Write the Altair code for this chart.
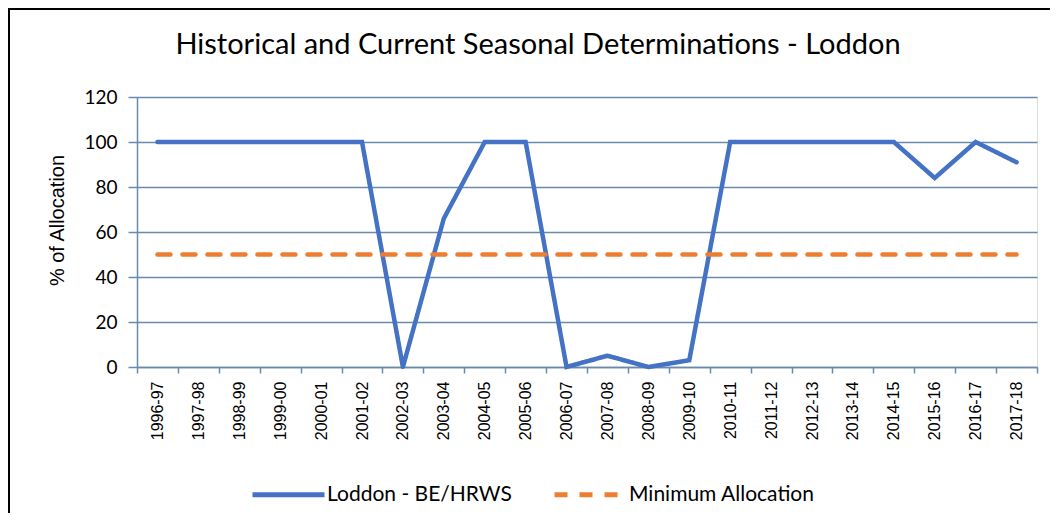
import altair as alt
import pandas as pd

seasons = ["1996-97", "1997-98", "1998-99", "1999-00", "2000-01", "2001-02",
           "2002-03", "2003-04", "2004-05", "2005-06", "2006-07", "2007-08",
           "2008-09", "2009-10", "2010-11", "2011-12", "2012-13", "2013-14",
           "2014-15", "2015-16", "2016-17", "2017-18"]
loddon = [100, 100, 100, 100, 100, 100, 0, 66, 100, 100, 0, 5,
          0, 3, 100, 100, 100, 100, 100, 84, 100, 91]
minimum = [50, 50, 50, 50, 50, 50, 50, 50, 50, 50, 50, 50,
           50, 50, 50, 50, 50, 50, 50, 50, 50, 50]
series_names = ["Loddon - BE/HRWS", "Minimum Allocation"]
series_colors = ["#4472C4", "#ED7D31"]
y_ticks = [0, 20, 40, 60, 80, 100, 120]
title_text = "Historical and Current Seasonal Determinations - Loddon"
y_title = "% of Allocation"

df = pd.DataFrame({
    "season": seasons + seasons,
    "value": loddon + minimum,
    "series": [series_names[0]] * len(seasons) + [series_names[1]] * len(seasons),
})

grid = "#6a89ad"

leg = alt.Legend(
    title=None, orient="none", legendX=113, legendY=359, direction="horizontal",
    columns=2, symbolType="stroke", symbolSize=5184, symbolStrokeWidth=5,
    labelFont="Lato", labelFontSize=21, labelColor="black", labelOffset=0,
    columnPadding=32, labelLimit=400,
)

lines = alt.Chart(df).mark_line(strokeWidth=4.5, strokeCap="round").encode(
    x=alt.X("season:N", sort=seasons,
            scale=alt.Scale(type="band", paddingInner=0, paddingOuter=0),
            axis=alt.Axis(title=None, labelAngle=270, labelFont="Liberation Sans",
                          labelFontSize=16, labelColor="black", labelPadding=8,
                          tickBand="extent", tickSize=6, tickColor=grid, tickWidth=1.5,
                          domainColor=grid, domainWidth=1.5, grid=False)),
    y=alt.Y("value:Q", scale=alt.Scale(domain=[0, 120], nice=False),
            axis=alt.Axis(values=y_ticks, title=y_title, titleFont="Liberation Sans",
                          titleFontSize=20, titleFontWeight="normal", titleColor="black",
                          titleX=-80, titleY=123, titleAngle=270, titleAlign="center",
                          titleBaseline="middle", labelFont="Lato", labelFontSize=19,
                          labelColor="black", labelPadding=11, tickSize=9,
                          tickColor=grid, tickWidth=1.5, gridColor=grid, gridWidth=1.5,
                          domainColor=grid, domainWidth=1.5)),
    color=alt.Color("series:N", scale=alt.Scale(domain=series_names, range=series_colors),
                    legend=leg),
    strokeDash=alt.StrokeDash("series:N",
                              scale=alt.Scale(domain=series_names, range=[[1, 0], [13, 12]]),
                              legend=leg),
)

border_data = alt.Data(values=[{"k": 0}])
left_border = alt.Chart(border_data).mark_rule(color="black", strokeWidth=2).encode(
    x=alt.value(-128), y=alt.value(-89), y2=alt.value(417))
top_border = alt.Chart(border_data).mark_rule(color="black", strokeWidth=2).encode(
    x=alt.value(-129), x2=alt.value(915), y=alt.value(-88))

chart = alt.layer(lines, left_border, top_border).properties(
    width=900, height=270,
    autosize=alt.AutoSizeParams(type="none"),
    padding={"left": 129, "top": 89, "right": 13, "bottom": 146},
    title=alt.TitleParams(text=title_text, font="Lato", fontSize=29, fontWeight="normal",
                          color="black", anchor="middle", frame="group", dx=-49,
                          offset=-76, baseline="alphabetic"),
).configure_view(strokeWidth=0).configure(background="white")

chart.save("out.html", embed_options={"renderer": "svg", "actions": False})
